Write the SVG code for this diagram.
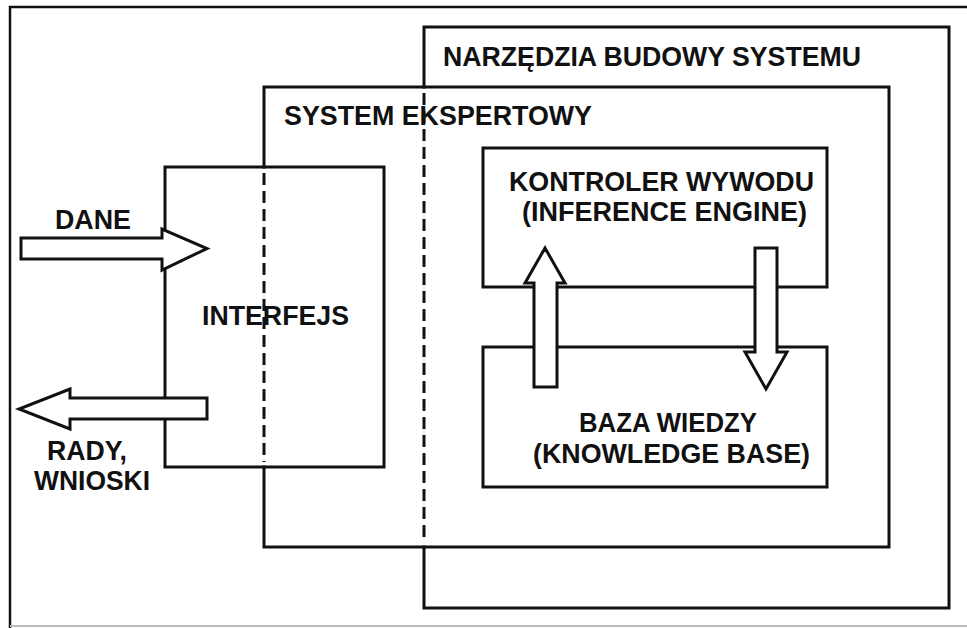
<svg xmlns="http://www.w3.org/2000/svg" width="967" height="628" viewBox="0 0 967 628">
<style>
.ln{fill:none;stroke:#111;stroke-width:3;stroke-linecap:square}
.dash{fill:none;stroke:#111;stroke-width:3;stroke-dasharray:12 6}
.arr{fill:#fff;stroke:#111;stroke-width:3;stroke-linejoin:miter}
.t{font-family:"Liberation Sans",Arial,sans-serif;font-weight:bold;font-size:27px;fill:#111}
</style>
<rect width="967" height="628" fill="#fff"/>
<g id="frame">
<path d="M10 7 H967 M10 7 V628" class="ln" style="stroke-width:2.5"/>
<path d="M10 626 H967" fill="none" stroke="#bbb" stroke-width="2"/>
</g>
<g id="narzedzia">
<path class="ln" d="M424 87 V27 H949 V608 H424 V547"/>
<path class="dash" d="M424 93 V540"/>
<text class="t" x="443" y="66" textLength="418" lengthAdjust="spacingAndGlyphs">NARZĘDZIA BUDOWY SYSTEMU</text>
</g>
<g id="system-ekspertowy">
<path class="ln" d="M264 167 V87 H889 V547 H264 V467"/>
<path class="dash" d="M264 173 V462"/>
<text class="t" x="284" y="125" textLength="308" lengthAdjust="spacingAndGlyphs">SYSTEM EKSPERTOWY</text>
</g>
<g id="interfejs">
<rect class="ln" x="165" y="167" width="219" height="300"/>
<text class="t" x="202" y="325" textLength="147" lengthAdjust="spacingAndGlyphs">INTERFEJS</text>
</g>
<g id="kontroler">
<rect class="ln" x="483" y="148" width="344" height="139"/>
<text class="t" x="509" y="191" textLength="305" lengthAdjust="spacingAndGlyphs">KONTROLER WYWODU</text>
<text class="t" x="522" y="221" textLength="285" lengthAdjust="spacingAndGlyphs">(INFERENCE ENGINE)</text>
</g>
<g id="baza">
<rect class="ln" x="483" y="347" width="344" height="140"/>
<text class="t" x="579" y="432" textLength="178" lengthAdjust="spacingAndGlyphs">BAZA WIEDZY</text>
<text class="t" x="533" y="463" textLength="277" lengthAdjust="spacingAndGlyphs">(KNOWLEDGE BASE)</text>
</g>
<g id="connectors">
<polygon class="arr" points="21,238 162,238 162,229 207,248.5 162,270 162,259 21,259"/>
<polygon class="arr" points="207,398 70,398 70,389 19,409 70,429 70,419 207,419"/>
<polygon class="arr" points="534,387 534,283 525,283 545,248 565,283 557,283 557,387"/>
<polygon class="arr" points="755,248 777,248 777,352 787,352 766,389 745,352 755,352"/>
<text class="t" x="55" y="229" textLength="76" lengthAdjust="spacingAndGlyphs">DANE</text>
<text class="t" x="47" y="460" textLength="80" lengthAdjust="spacingAndGlyphs">RADY,</text>
<text class="t" x="34" y="490" textLength="116" lengthAdjust="spacingAndGlyphs">WNIOSKI</text>
</g>
</svg>
